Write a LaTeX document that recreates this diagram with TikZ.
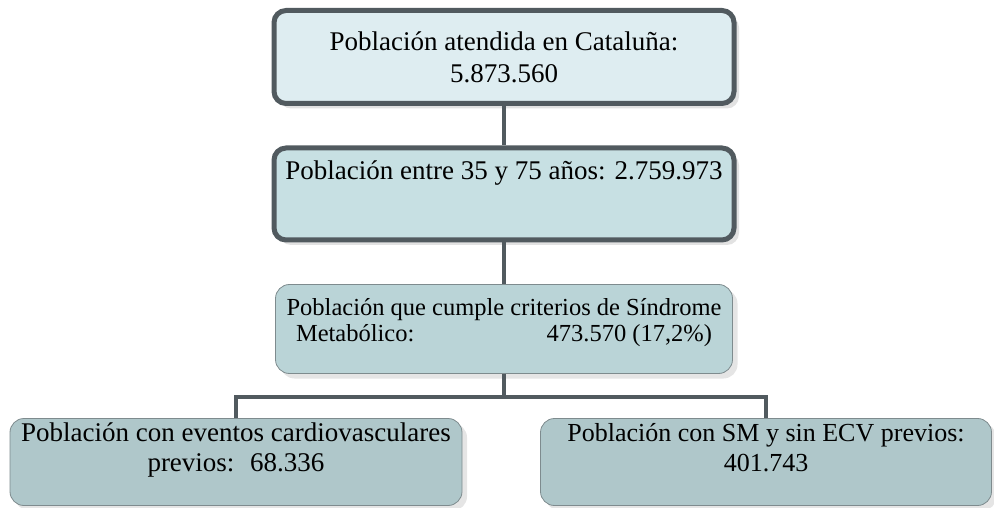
\documentclass[tikz,border=0pt]{standalone}
\usepackage{fontspec}
\setmainfont{Liberation Serif}
\usetikzlibrary{shadows}
\definecolor{box-line}{HTML}{515A5F}
\definecolor{thin-line}{HTML}{7E8B8E}
\definecolor{fill-one}{HTML}{DEEDF1}
\definecolor{fill-two}{HTML}{C7E0E3}
\definecolor{fill-three}{HTML}{BAD4D7}
\definecolor{fill-four}{HTML}{AFC7CA}

\begin{document}
\begin{tikzpicture}[x=1pt, y=1pt,
  txt/.style={font=\fontsize{27}{32}\selectfont, align=center},
  boldbox/.style={draw=box-line, line width=5pt, rounded corners=12pt,
    drop shadow={shadow xshift=5pt, shadow yshift=-5pt, fill=gray!45}},
  thinbox/.style={draw=thin-line, line width=0.8pt, rounded corners=14pt,
    drop shadow={shadow xshift=5pt, shadow yshift=-5pt, fill=gray!40}},
  link/.style={draw=box-line, line width=4.5pt}]
\useasboundingbox (0,0) rectangle (994,507);
% boxes
\node[boldbox, txt, fill=fill-one, minimum width=460, minimum height=93] (total) at (504,450)
  {Población atendida en Cataluña:\\5.873.560};
\node[boldbox, fill=fill-two, minimum width=460, minimum height=92,
  label={[txt, inner sep=0, anchor=north, yshift=-15]north:Población entre 35 y 75 años: 2.759.973}] (edad) at (504,313) {};
\node[thinbox, fill=fill-three, minimum width=457, minimum height=89,
  label={[txt, inner sep=0, anchor=north, yshift=-14, font=\fontsize{24.5}{26}\selectfont]north:Población que cumple criterios de Síndrome\\
  \makebox[416pt]{Metabólico:\hfill 473.570 (17,2\%)}}] (sm) at (504,178) {};
\node[thinbox, fill=fill-four, minimum width=452, minimum height=87,
  label={[txt, inner sep=0, anchor=north, yshift=-4, font=\fontsize{27}{30}\selectfont]north:Población con eventos cardiovasculares\\previos:~ 68.336}] (ecv) at (236,45) {};
\node[thinbox, fill=fill-four, minimum width=451, minimum height=87,
  label={[txt, inner sep=0, anchor=north, yshift=-5, font=\fontsize{26}{30}\selectfont]north:Población con SM y sin ECV previos:\\401.743}] (sinecv) at (766,45) {};
% connectors
\coordinate (split) at (504,110);
\draw[link] (total.south) -- (edad.north);
\draw[link] (edad.south) -- (sm.north);
\draw[link] (sm.south) -- (split);
\draw[link] (ecv.north) |- (split) -| (sinecv.north);
\end{tikzpicture}
\end{document}
